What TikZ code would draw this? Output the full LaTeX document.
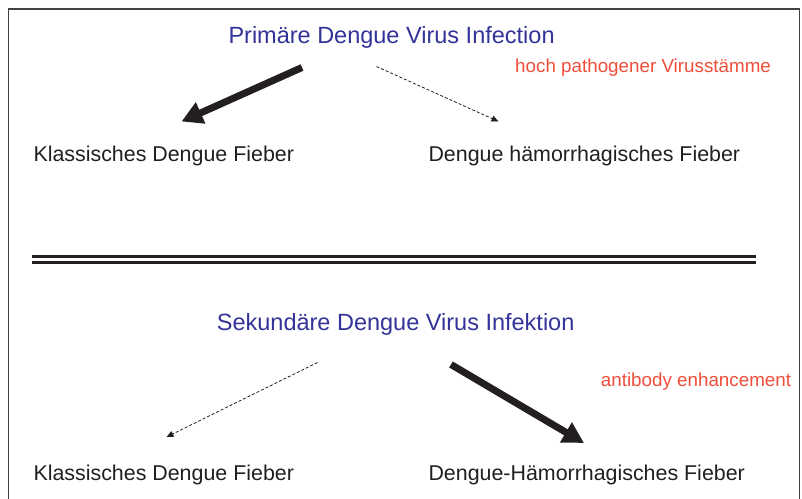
\documentclass[tikz,border=0pt]{standalone}
\usepackage{fontspec}
\setmainfont{Liberation Sans}
\usetikzlibrary{arrows.meta}
\definecolor{titleblue}{RGB}{51,51,153}
\definecolor{notered}{RGB}{240,78,58}
\definecolor{ink}{RGB}{35,31,32}
\tikzset{
  titletext/.style={anchor=base west, inner sep=0pt, text=titleblue, font=\fontsize{23.5}{28}\selectfont},
  bodytext/.style={anchor=base west, inner sep=0pt, text=ink, font=\fontsize{21.4}{26}\selectfont},
  notetext/.style={anchor=base west, inner sep=0pt, text=notered, font=\fontsize{18.8}{22}\selectfont},
  strongarrow/.style={draw=ink, line width=7pt, -{Triangle[length=21pt,width=22pt]}},
  weakarrow/.style={draw=ink, line width=0.8pt, dash pattern=on 3pt off 2pt, -{Triangle[length=7pt,width=6pt]}},
  framebox/.style={draw=ink!85, line width=1.4pt},
  ruleline/.style={draw=ink, line width=3pt}
}
\begin{document}
\begin{tikzpicture}[x=1pt,y=-1pt]
\useasboundingbox (0,0) rectangle (802,498);
\fill[white] (0,0) rectangle (802,498);
% frame (open at bottom)
\draw[framebox] (8.5,505) -- (8.5,9) -- (799.5,9) -- (799.5,505);
% texts
\node[titletext] (prim) at (228.3,43.5) {Primäre Dengue Virus Infection};
\node[notetext] (hoch) at (515,72.7) {hoch pathogener Virusstämme};
\node[bodytext] (kdf1) at (33.3,161.7) {Klassisches Dengue Fieber};
\node[bodytext] (dhf1) at (428.3,161.7) {Dengue hämorrhagisches Fieber};
\node[titletext] (sek) at (216.7,330.5) {Sekundäre Dengue Virus Infektion};
\node[notetext] (ab) at (600.7,386) {antibody enhancement};
\node[bodytext] (kdf2) at (33.3,480.5) {Klassisches Dengue Fieber};
\node[bodytext] (dhf2) at (428.3,480.5) {Dengue-Hämorrhagisches Fieber};
% separator
\coordinate (r1a) at (32,256.5); \coordinate (r1b) at (756,256.5);
\coordinate (r2a) at (32,262.5); \coordinate (r2b) at (756,262.5);
\draw[ruleline] (r1a) -- (r1b);
\draw[ruleline] (r2a) -- (r2b);
% arrow endpoints
\coordinate (a1s) at (302,67.5); \coordinate (a1e) at (181.5,121.5);
\coordinate (a2s) at (376.5,66.5); \coordinate (a2e) at (498.5,121.5);
\coordinate (a3s) at (317.5,362.5); \coordinate (a3e) at (166.5,437);
\coordinate (a4s) at (451,364.5); \coordinate (a4e) at (584,443);
\draw[strongarrow] (a1s) -- (a1e);
\draw[weakarrow] (a2s) -- (a2e);
\draw[weakarrow] (a3s) -- (a3e);
\draw[strongarrow] (a4s) -- (a4e);
\end{tikzpicture}
\end{document}
